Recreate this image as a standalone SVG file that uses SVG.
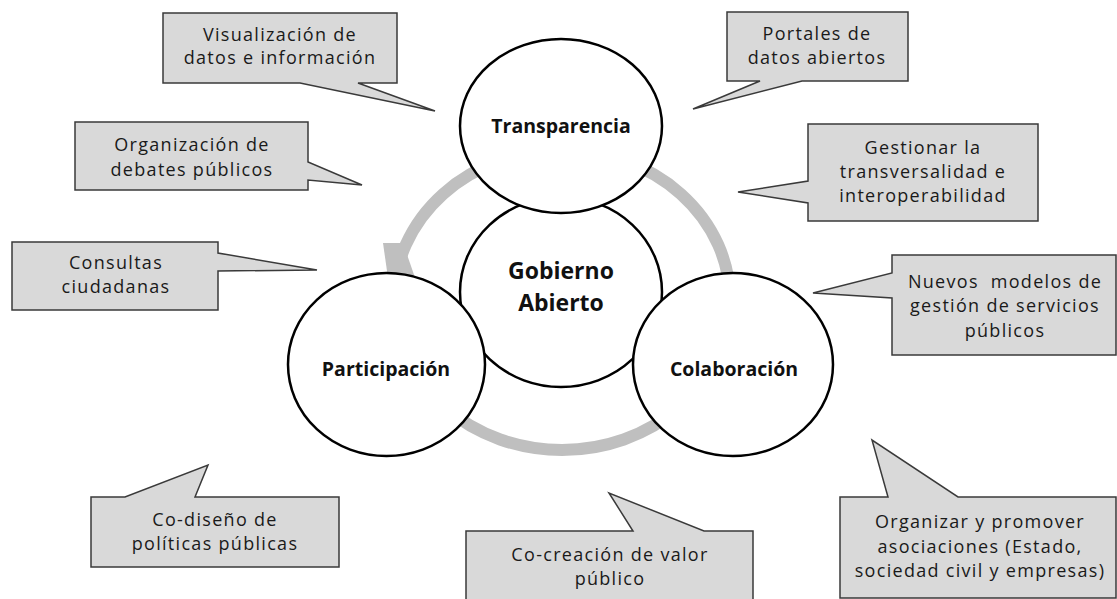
<svg xmlns="http://www.w3.org/2000/svg" width="1117" height="599" viewBox="0 0 1117 599">
<style>
.call{fill:#d9d9d9;stroke:#3a3a3a;stroke-width:1.5;stroke-linejoin:miter}
.ct{font-family:"Open Sans","Liberation Sans",sans-serif;font-size:18px;letter-spacing:1.3px;fill:#1a1a1a;text-anchor:middle}
.circ{fill:#ffffff;stroke:#000000;stroke-width:2.5}
.lab{font-family:"Open Sans","Liberation Sans",sans-serif;font-weight:bold;font-size:19.5px;fill:#111111;text-anchor:middle}
.big{font-size:23px}
</style>
<rect width="1117" height="599" fill="#ffffff"/>
<g id="connectors">
  <ellipse cx="562" cy="300" rx="168" ry="150" fill="none" stroke="#bfbfbf" stroke-width="12"/>
  <polygon points="383,243 403,243 420,292 390,292" fill="#bfbfbf"/>
</g>
<g id="gobierno-abierto">
  <ellipse class="circ" cx="561" cy="292" rx="101" ry="95"/>
  <text class="lab big" x="561" y="279">Gobierno</text>
  <text class="lab big" x="561" y="311">Abierto</text>
</g>
<g id="transparencia">
  <ellipse class="circ" cx="561" cy="126" rx="101" ry="87"/>
  <text class="lab" x="561" y="133">Transparencia</text>
</g>
<g id="participacion">
  <ellipse class="circ" cx="386.5" cy="364.5" rx="98.5" ry="91.5"/>
  <text class="lab" x="386" y="376">Participación</text>
</g>
<g id="colaboracion">
  <ellipse class="circ" cx="733" cy="364.5" rx="100" ry="91.5"/>
  <text class="lab" x="734" y="376">Colaboración</text>
</g>
<g id="c-visualizacion">
  <path class="call" d="M163,13 H397 V83 H358 L435,111 L300,83 H163 Z"/>
  <text class="ct" x="280" y="41">Visualización de</text>
  <text class="ct" x="280" y="64">datos e información</text>
</g>
<g id="c-portales">
  <path class="call" d="M727,12 H908 V81 H802 L693,109 L760,81 H727 Z"/>
  <text class="ct" x="817" y="40">Portales de</text>
  <text class="ct" x="817" y="64">datos abiertos</text>
</g>
<g id="c-organizacion">
  <path class="call" d="M75,122 H308 V162 L362,185 L308,180 V190 H75 Z"/>
  <text class="ct" x="192" y="151">Organización de</text>
  <text class="ct" x="192" y="176">debates públicos</text>
</g>
<g id="c-gestionar">
  <path class="call" d="M808,124 H1038 V221 H808 V203 L738,192 L808,181 Z"/>
  <text class="ct" x="923" y="154">Gestionar la</text>
  <text class="ct" x="923" y="178">transversalidad e</text>
  <text class="ct" x="923" y="202">interoperabilidad</text>
</g>
<g id="c-consultas">
  <path class="call" d="M12,242 H218 V253 L317,270 L218,271 V310 H12 Z"/>
  <text class="ct" x="116" y="269">Consultas</text>
  <text class="ct" x="116" y="293">ciudadanas</text>
</g>
<g id="c-nuevos">
  <path class="call" d="M892,255 H1116 V355 H892 V298 L813,293 L892,273 Z"/>
  <text class="ct" x="1005" y="288" xml:space="preserve">Nuevos  modelos de</text>
  <text class="ct" x="1005" y="312">gestión de servicios</text>
  <text class="ct" x="1005" y="337">públicos</text>
</g>
<g id="c-codiseno">
  <path class="call" d="M91,497 H125 L208,465 L195,497 H339 V567 H91 Z"/>
  <text class="ct" x="215" y="526">Co-diseño de</text>
  <text class="ct" x="215" y="550">políticas públicas</text>
</g>
<g id="c-cocreacion">
  <path class="call" d="M466,531 H633 L609,493 L704,531 H753 V605 H466 Z"/>
  <text class="ct" x="610" y="561">Co-creación de valor</text>
  <text class="ct" x="610" y="585">público</text>
</g>
<g id="c-organizar">
  <path class="call" d="M840,497 H888 L872,440 L958,497 H1116 V598 H840 Z"/>
  <text class="ct" x="980" y="528">Organizar y promover</text>
  <text class="ct" x="980" y="553">asociaciones (Estado,</text>
  <text class="ct" x="980" y="577">sociedad civil y empresas)</text>
</g>
</svg>
